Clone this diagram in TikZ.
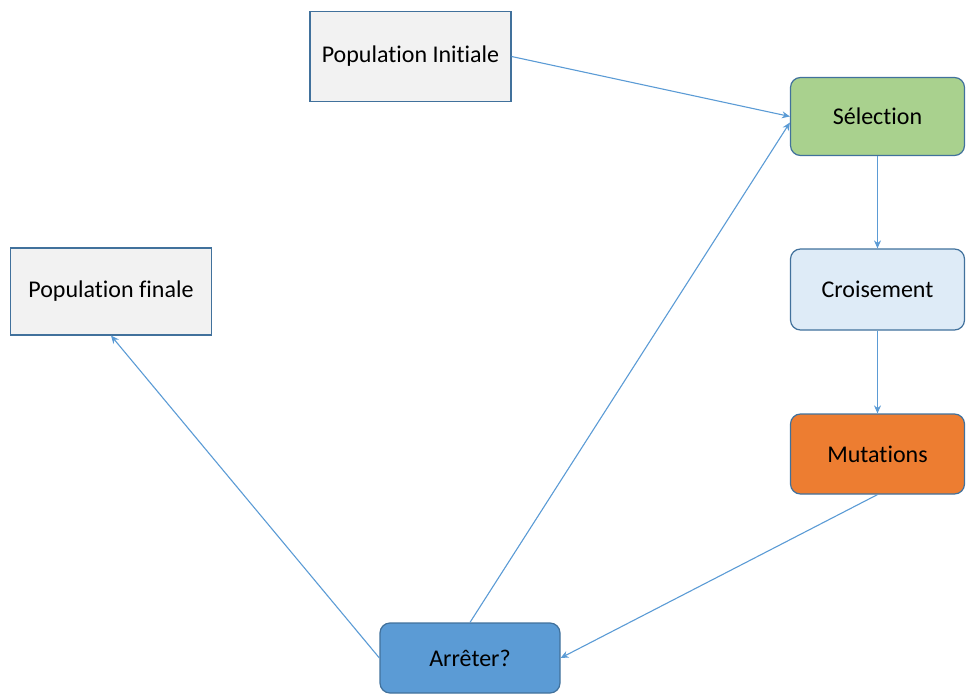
\documentclass[tikz,border=0pt]{standalone}
\usepackage{fontspec}
\setmainfont{Carlito}[Ligatures=NoCommon]
\usetikzlibrary{arrows.meta}

\definecolor{edgeblue}{HTML}{5B9BD5}
\definecolor{frameblue}{HTML}{41719C}
\definecolor{boxgray}{HTML}{F2F2F2}
\definecolor{selgreen}{HTML}{A9D18E}
\definecolor{crosblue}{HTML}{DEEBF7}
\definecolor{mutorange}{HTML}{ED7D31}

\begin{document}
\begin{tikzpicture}[
  x=1pt,y=-1pt,
  popbox/.style={draw=frameblue,line width=1.2pt,fill=boxgray,minimum width=201pt,minimum height=90pt,inner sep=0pt,font=\fontsize{24}{28}\selectfont},
  stepbox/.style={draw=frameblue,line width=1.2pt,rounded corners=10pt,minimum width=174pt,minimum height=78pt,inner sep=0pt,font=\fontsize{24}{28}\selectfont},
  link/.style={draw=edgeblue,line width=1.1pt,-{Stealth[length=8pt,width=7pt]}}
]
\useasboundingbox (0,0) rectangle (966,695);
\node[popbox] (init) at (410.5,56.5) {Population Initiale};
\node[popbox,minimum height=87pt] (final) at (111,291.5) {Population finale};
\node[stepbox,fill=selgreen] (sel) at (877.5,116.5) {Sélection};
\node[stepbox,fill=crosblue,minimum height=81pt] (cros) at (877.5,289.5) {Croisement};
\node[stepbox,fill=mutorange,minimum height=80pt] (mut) at (877.5,454) {Mutations};
\node[stepbox,fill=edgeblue,minimum width=180pt,minimum height=70pt] (stop) at (470,658) {Arrêter?};

\draw[link] (init.east) -- (sel.west);
\draw[link] (sel.south) -- (cros.north);
\draw[link] (cros.south) -- (mut.north);
\draw[link] (mut.south) -- (stop.east);
\draw[link] (stop.north) -- ([yshift=-6pt]sel.west);
\draw[link] (stop.west) -- (final.south);
\end{tikzpicture}
\end{document}
